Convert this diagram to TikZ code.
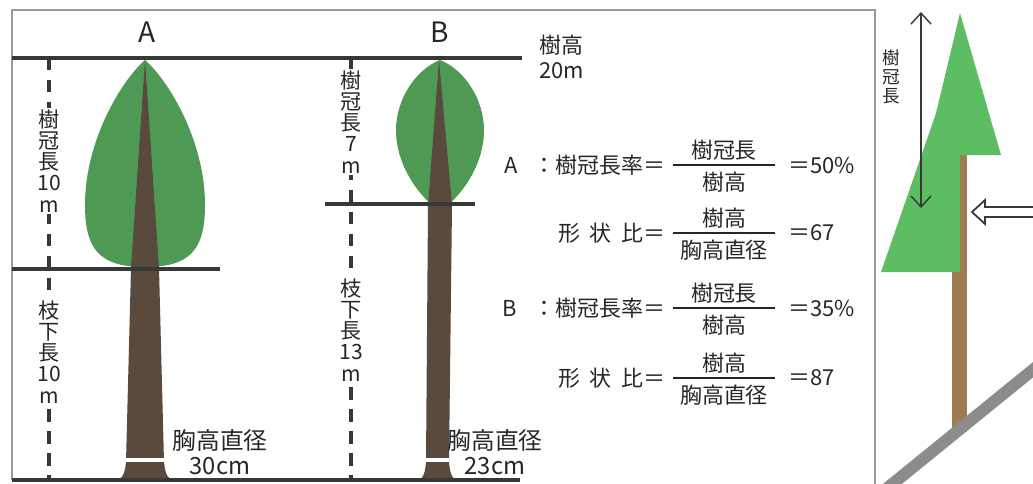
\documentclass[tikz,border=0pt]{standalone}
\usepackage{fontspec}
\newfontfamily\jpfont{Noto Sans CJK JP}
\usepackage{tikz}
\usetikzlibrary{arrows.meta}

\definecolor{crowngreen}{HTML}{4E9A54}
\definecolor{trunkbrown}{HTML}{5A4A3E}
\definecolor{linegray}{HTML}{383838}
\definecolor{textgray}{HTML}{262626}
\definecolor{framegray}{HTML}{9A9A9A}
\definecolor{conifergreen}{HTML}{5CBD62}
\definecolor{barkbrown}{HTML}{9E7C50}
\definecolor{slopegray}{HTML}{8C8C8C}

\begin{document}
\begin{tikzpicture}[
        x=0.02cm, y=-0.02cm,
        font=\jpfont,
        text=textgray,
        level/.style={draw=linegray, line width=2.3pt},
        measure/.style={draw=linegray, line width=2pt, dash pattern=on 7pt off 5.5pt},
        vlabel/.style={
            fill=white,
            inner sep=1pt,
            align=center,
            font=\jpfont\fontsize{12}{12}\selectfont
        },
        treelabel/.style={font=\jpfont\fontsize{16}{18}\selectfont},
        note/.style={align=center, inner sep=0pt, font=\jpfont\fontsize{13.5}{14}\selectfont},
        formula/.style={inner sep=0pt, font=\jpfont\fontsize{12.5}{14}\selectfont},
        fracbar/.style={draw=textgray, line width=0.7pt},
        dbh/.style={draw=white, line width=2.2pt},
        dimarrow/.style={{Straight Barb[length=2.2mm, width=4mm]}-{Straight Barb[length=2.2mm, width=4mm]}, draw=linegray, line width=0.8pt}
    ]

        \useasboundingbox (0,0) rectangle (1033,483);

        % ---- Frame ----
        \draw[framegray, line width=0.6pt] (12,480) -- (12,10) -- (875,10) -- (875,490);

        % ---- Tree A ----
        \fill[crowngreen] (145,60) .. controls (122,80) and (85,140) .. (85,205)
            .. controls (85,250) and (100,267) .. (145,267)
            .. controls (190,267) and (205,250) .. (205,205)
            .. controls (205,140) and (168,80) .. cycle;
        \fill[trunkbrown] (145,60) -- (159,268) -- (164,462)
            .. controls (165,475) and (169,480) .. (174,481) -- (116,481)
            .. controls (121,480) and (125,475) .. (126,462) -- (131,268) -- cycle;
        \draw[dbh] (126,460) -- (164,460);

        % ---- Tree B ----
        \fill[crowngreen] (440,60) .. controls (415,70) and (396,100) .. (396,130)
            .. controls (396,165) and (418,193) .. (431,204) -- (449,204)
            .. controls (462,193) and (484,165) .. (484,130)
            .. controls (484,100) and (465,70) .. cycle;
        \fill[trunkbrown] (439,60) -- (452,205) -- (449,462)
            .. controls (450,475) and (453,480) .. (458,481) -- (417,481)
            .. controls (422,480) and (425,475) .. (426,462) -- (428,205) -- cycle;
        \draw[dbh] (426,460) -- (449,460);

        % ---- Levels and measures ----
        \draw[level] (12,58) -- (522,58);
        \draw[level] (12,269) -- (220,269);
        \draw[level] (325,204) -- (475,204);
        \draw[level, line width=2.8pt] (12,480) -- (520,480);

        \draw[measure] (49,58) -- (49,480);
        \draw[measure] (351,58) -- (351,480);

        % ---- Labels ----
        \node[treelabel] (treeA) at (147,32) {A};
        \node[treelabel] (treeB) at (440,32) {B};
        \node[note, anchor=west, align=left, font=\jpfont\fontsize{12.5}{14}\selectfont] (height) at (539,57) {樹高\\20m};

        \node[vlabel] (crownA) at (49,161) {樹\\冠\\長\\10\\m};
        \node[vlabel] (clearA) at (49,352) {枝\\下\\長\\10\\m};
        \node[vlabel] (crownB) at (351,122) {樹\\冠\\長\\7\\m};
        \node[vlabel] (clearB) at (351,330) {枝\\下\\長\\13\\m};

        \node[note] (dbhA) at (220,452) {胸高直径\\30cm};
        \node[note] (dbhB) at (495,452) {胸高直径\\23cm};

        % ---- Formulas ----
        \node[formula, anchor=east] (ratioA) at (666,165) {A\hspace{0.75em}：樹冠長率＝};
        \node[formula] (ratioAnum) at (724,150) {樹冠長};
        \node[formula] (ratioAden) at (724,182) {樹高};
        \draw[fracbar] (673,165) -- (775,165);
        \node[formula, anchor=west] (ratioAval) at (788,165) {＝50\%};

        \node[formula, anchor=east] (shapeA) at (666,233) {形\hspace{0.45em}状\hspace{0.45em}比＝};
        \node[formula] (shapeAnum) at (724,218) {樹高};
        \node[formula] (shapeAden) at (724,250) {胸高直径};
        \draw[fracbar] (673,233) -- (775,233);
        \node[formula, anchor=west] (shapeAval) at (788,233) {＝67};

        \node[formula, anchor=east] (ratioB) at (666,308) {B\hspace{0.75em}：樹冠長率＝};
        \node[formula] (ratioBnum) at (724,293) {樹冠長};
        \node[formula] (ratioBden) at (724,325) {樹高};
        \draw[fracbar] (673,308) -- (775,308);
        \node[formula, anchor=west] (ratioBval) at (788,308) {＝35\%};

        \node[formula, anchor=east] (shapeB) at (666,378) {形\hspace{0.45em}状\hspace{0.45em}比＝};
        \node[formula] (shapeBnum) at (724,363) {樹高};
        \node[formula] (shapeBden) at (724,395) {胸高直径};
        \draw[fracbar] (673,378) -- (775,378);
        \node[formula, anchor=west] (shapeBval) at (788,378) {＝87};

        % ---- Conifer on a slope ----
        \fill[barkbrown] (952,150) rectangle (967,432);
        \fill[conifergreen] (960,13) -- (1001,155) -- (926,155) -- cycle;
        \fill[conifergreen] (960,44) -- (960,272) -- (881,272) -- cycle;
        \draw[slopegray, line width=6.8pt] (880,494) -- (1045,360);

        \coordinate (crowntop) at (921,12);
        \coordinate (crownbase) at (921,208);
        \draw[dimarrow] (crowntop) -- (crownbase);
        \node[vlabel, fill=none, font=\jpfont\fontsize{10}{10.8}\selectfont] (crownlen) at (891,77) {樹\\冠\\長};

        \draw[linegray, fill=white, line width=1pt] (972,212) -- (985,200) -- (985,207) -- (1045,207)
            -- (1045,217) -- (985,217) -- (985,224) -- cycle;

    \end{tikzpicture}
\end{document}
